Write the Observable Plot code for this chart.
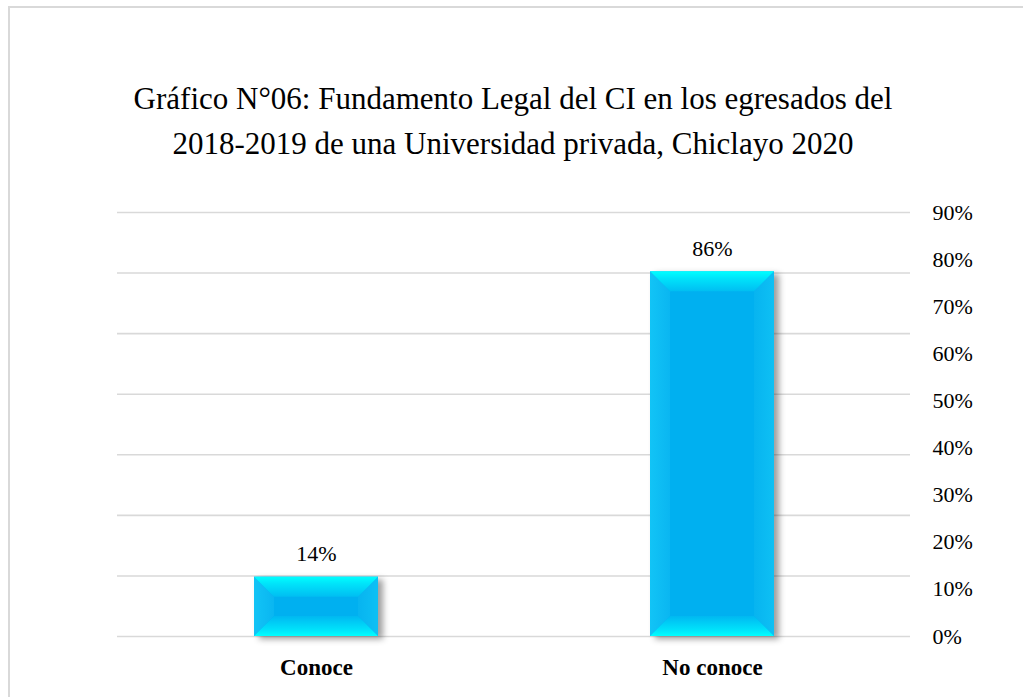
<!DOCTYPE html>
<html>
<head>
<meta charset="utf-8">
<script src="https://cdn.jsdelivr.net/npm/d3@7"></script>
<script src="https://cdn.jsdelivr.net/npm/@observablehq/plot@0.6"></script>
<style>
  html, body { margin: 0; padding: 0; background: #fff; overflow: hidden; width: 1023px; height: 697px; }
  #frame { position: absolute; left: 8px; top: 6px; width: 1100px; height: 800px; border: 2px solid #D9D9D9; box-sizing: border-box; }
  #title { position: absolute; left: 0; top: 76px; width: 1026px; text-align: center;
           font-family: 'Liberation Serif', 'Times New Roman', serif; font-size: 31px; line-height: 45px; color: #000; }
  .chart { position: absolute; left: 0; top: 180px; }
</style>
</head>
<body>
<div id="frame"></div>
<div id="title">Gráfico N°06: Fundamento Legal del CI en los egresados del<br>2018-2019 de una Universidad privada, Chiclayo 2020</div>
<div id="main" class="chart"></div>
<div id="axis" class="chart"></div>
<script>
const categories = ["Conoce", "No conoce"];
const values = [0.14, 0.86];
const valueLabels = ["14%", "86%"];
const gridTicks = [0, 0.142857, 0.285714, 0.428571, 0.571429, 0.714286, 0.857143, 1];
const rightTicks = [0, 0.1, 0.2, 0.3, 0.4, 0.5, 0.6, 0.7, 0.8, 0.9];
const rightTickLabels = ["0%", "10%", "20%", "30%", "40%", "50%", "60%", "70%", "80%", "90%"];

const data = categories.map((c, i) => ({category: c, value: values[i], label: valueLabels[i]}));

const W = 1023, H = 517;
const margins = {marginLeft: 117, marginRight: 113, marginTop: 32, marginBottom: 61};
const font = {fontFamily: "'Liberation Serif', 'Times New Roman', serif", fontSize: "22px", color: "#000", background: "transparent", overflow: "visible"};

const SVGNS = "http://www.w3.org/2000/svg";
function el(name, attrs) {
  const e = document.createElementNS(SVGNS, name);
  for (const k in attrs) e.setAttribute(k, attrs[k]);
  return e;
}
function grad(id, x1, y1, x2, y2, stops) {
  const g = el("linearGradient", {id, x1, y1, x2, y2});
  stops.forEach(([o, c]) => g.appendChild(el("stop", {offset: o, "stop-color": c})));
  return g;
}

function bevel(index, scales, vals, dims, ctx, next) {
  const g = next(index, scales, vals, dims, ctx);
  const defs = el("defs", {});
  defs.appendChild(grad("bvTop", 0, 0, 0, 1, [[0, "#00FFFF"], [0.35, "#00E4FA"], [1, "#00BEF2"]]));
  defs.appendChild(grad("bvBot", 0, 1, 0, 0, [[0, "#00FFFF"], [0.35, "#00E0FA"], [1, "#00B8F1"]]));
  defs.appendChild(grad("bvLeft", 0, 0, 1, 0, [[0, "#12C4F6"], [1, "#0AB6F1"]]));
  defs.appendChild(grad("bvRight", 1, 0, 0, 0, [[0, "#0EC0F4"], [1, "#07B4F0"]]));
  g.insertBefore(defs, g.firstChild);
  g.style.filter = "drop-shadow(5px 3px 3px rgba(0,0,0,0.38))";
  const b = 20;
  g.querySelectorAll("rect").forEach(r => {
    const x = +r.getAttribute("x"), y = +r.getAttribute("y");
    const w = +r.getAttribute("width"), h = +r.getAttribute("height");
    const bb = Math.min(b, h / 2.5, w / 2.5);
    const P = pts => pts.map(p => p.join(",")).join(" ");
    const polys = [
      ["bvLeft", [[x, y], [x + bb, y + bb], [x + bb, y + h - bb], [x, y + h]]],
      ["bvRight", [[x + w, y], [x + w - bb, y + bb], [x + w - bb, y + h - bb], [x + w, y + h]]],
      ["bvTop", [[x, y], [x + w, y], [x + w - bb, y + bb], [x + bb, y + bb]]],
      ["bvBot", [[x, y + h], [x + w, y + h], [x + w - bb, y + h - bb], [x + bb, y + h - bb]]]
    ];
    const parent = r.parentNode;
    polys.forEach(([id, p]) => parent.appendChild(el("polygon", {points: P(p), fill: `url(#${id})`})));
  });
  return g;
}

const main = Plot.plot({
  width: W, height: H, ...margins,
  style: font,
  x: {domain: categories, padding: 0, label: null},
  y: {domain: [0, 1], label: null},
  marks: [
    Plot.ruleY(gridTicks, {stroke: "#D9D9D9", strokeWidth: 1.6}),
    Plot.barY(data, {x: "category", y: "value", fill: "#00B0F0", insetLeft: 136, insetRight: 136, render: bevel}),
    Plot.text(data, {x: "category", y: "value", text: "label", dy: -23, fontSize: 22, fill: "#000"}),
    Plot.axisX({tickSize: 0, tickPadding: 22, fontWeight: "bold", fontSize: 23, fill: "#000", label: null}),
    Plot.axisY({ticks: [], label: null})
  ]
});
document.getElementById("main").appendChild(main);

const axis = Plot.plot({
  width: W, height: H, ...margins,
  style: font,
  x: {domain: categories, axis: null},
  y: {domain: [0, 0.9], label: null},
  marks: [
    Plot.axisY({anchor: "right", ticks: rightTicks, tickFormat: (d, i) => rightTickLabels[i], tickSize: 0, tickPadding: 22, textAnchor: "start", fontSize: 22, fill: "#000", label: null})
  ]
});
document.getElementById("axis").appendChild(axis);
</script>
</body>
</html>
